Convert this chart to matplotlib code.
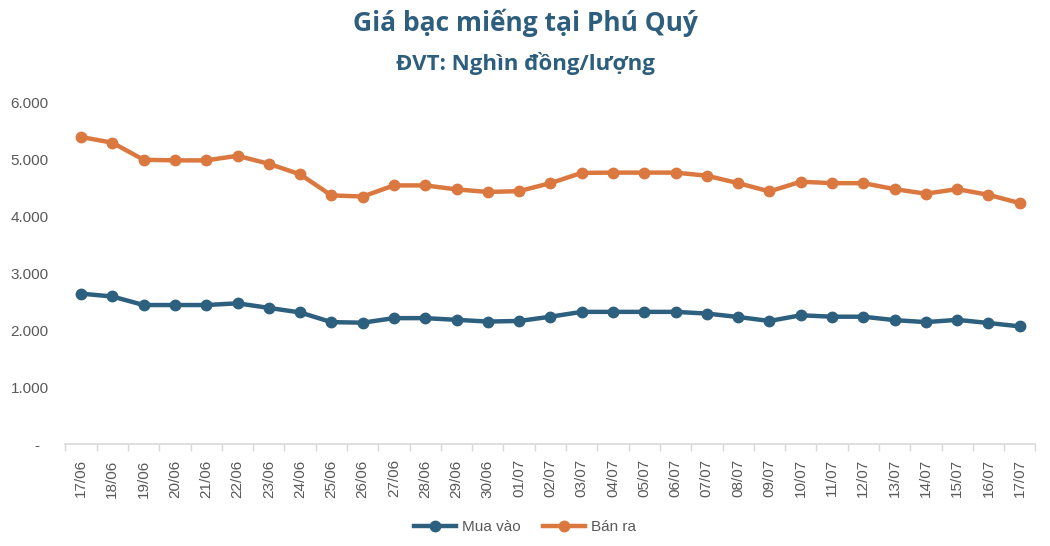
import matplotlib.pyplot as plt
import numpy as np

# data (nghìn đồng/lượng)
dates = ['17/06', '18/06', '19/06', '20/06', '21/06', '22/06', '23/06', '24/06',
         '25/06', '26/06', '27/06', '28/06', '29/06', '30/06', '01/07', '02/07',
         '03/07', '04/07', '05/07', '06/07', '07/07', '08/07', '09/07', '10/07',
         '11/07', '12/07', '13/07', '14/07', '15/07', '16/07', '17/07']
mua_vao = [2640, 2590, 2440, 2440, 2440, 2470, 2390, 2310, 2140, 2130, 2210,
           2210, 2180, 2150, 2160, 2235, 2320, 2320, 2320, 2320, 2290, 2230,
           2160, 2260, 2235, 2235, 2175, 2140, 2180, 2125, 2065]
ban_ra = [5390, 5290, 4990, 4980, 4980, 5060, 4920, 4735, 4365, 4345, 4540,
          4540, 4470, 4425, 4440, 4580, 4760, 4765, 4765, 4765, 4710, 4580,
          4435, 4605, 4580, 4580, 4475, 4395, 4475, 4375, 4230]
y_ticks = [0, 1000, 2000, 3000, 4000, 5000, 6000]

BLUE = '#2D5F7F'
ORANGE = '#DA7840'
GRAY = '#595959'
TITLE = '#2E5E7E'

plt.rcParams['font.family'] = ['Liberation Sans', 'DejaVu Sans']

fig = plt.figure(figsize=(10.5, 5.46), dpi=100)
ax = fig.add_axes([0.0623, 0.1868, 0.9238, 0.6259])

x = np.arange(len(dates))
ax.plot(x, mua_vao, color=BLUE, lw=3.2, marker='o', ms=7.5, label='Mua vào')
ax.plot(x, ban_ra, color=ORANGE, lw=3.2, marker='o', ms=7.5, label='Bán ra')

ax.set_xlim(-0.5, len(dates) - 0.5)
ax.set_ylim(0, 6000)

# y axis: Excel style "6.000" and "-" for zero
ax.set_yticks(y_ticks)
ax.set_yticklabels(['-  '] + [f'{v:,}'.replace(',', '.') for v in y_ticks[1:]])
ax.tick_params(axis='y', length=0, pad=12, labelsize=11, labelcolor=GRAY)

# x axis: ticks between categories, labels centered
ax.set_xticks(x)
ax.set_xticklabels(dates, rotation=90)
ax.set_xticks(np.arange(len(dates) + 1) - 0.5, minor=True)
ax.tick_params(axis='x', which='major', length=0, pad=11, labelsize=11, labelcolor=GRAY)
ax.tick_params(axis='x', which='minor', length=5, width=1, color='#D9D9D9')

for side in ['top', 'right', 'left']:
    ax.spines[side].set_visible(False)
ax.spines['bottom'].set_color('#D9D9D9')
ax.spines['bottom'].set_linewidth(1.2)

fig.text(0.5, 0.958, 'Giá bạc miếng tại Phú Quý', ha='center', va='center',
         fontsize=19, fontweight='bold', color=TITLE, family=['Open Sans', 'DejaVu Sans'])
fig.text(0.5, 0.884, 'ĐVT: Nghìn đồng/lượng', ha='center', va='center',
         fontsize=16, fontweight='bold', color=TITLE, family=['Open Sans', 'DejaVu Sans'])

fig.legend(loc='center', bbox_to_anchor=(0.5, 0.034), ncol=2, frameon=False,
           fontsize=11, labelcolor=GRAY, handlelength=2.8, columnspacing=1.4,
           handletextpad=0.4)

fig.savefig('out.png', dpi=100)
